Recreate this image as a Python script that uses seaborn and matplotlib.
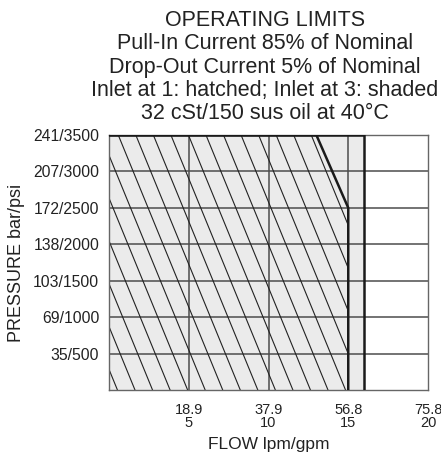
import matplotlib
matplotlib.use("Agg")
import matplotlib.pyplot as plt
from matplotlib.patches import Polygon
import seaborn as sns
import numpy as np
import pandas as pd

# axis ticks
flow_gpm = [5, 10, 15, 20]
flow_lpm = ["18.9", "37.9", "56.8", "75.8"]
pressure_psi = [500, 1000, 1500, 2000, 2500, 3000, 3500]
pressure_bar = [35, 69, 103, 138, 172, 207, 241]

# inlet at 1: hatched envelope (gpm / psi)
hatch_flow = [0, 0, 13, 15, 15]
hatch_psi = [0, 3500, 3500, 2500, 0]

# inlet at 3: shaded envelope
shade_flow = [0, 0, 16, 16]
shade_psi = [0, 3500, 3500, 0]

title_lines = [
    "OPERATING LIMITS",
    "Pull-In Current 85% of Nominal",
    "Drop-Out Current 5% of Nominal",
    "Inlet at 1: hatched; Inlet at 3: shaded",
    "32 cSt/150 sus oil at 40\u00b0C",
]

sns.set_style("white")
plt.rcParams["font.family"] = ["Liberation Sans", "DejaVu Sans"]

fig = plt.figure(figsize=(4.41, 4.55), dpi=100)
ax = fig.add_axes([109 / 441, 1 - 390 / 455, 319 / 441, 255 / 455])
ax.set_xlim(0, 20)
ax.set_ylim(0, 3500)

# shaded region
shade = Polygon(np.column_stack([shade_flow, shade_psi]), closed=True,
                facecolor="#ebebeb", edgecolor="none", zorder=0)
ax.add_patch(shade)

# grid
for x in flow_gpm[:-1]:
    ax.axvline(x, color="#4d4d4d", lw=1.1, zorder=1)
for y in pressure_psi[:-1]:
    ax.axhline(y, color="#4d4d4d", lw=1.1, zorder=1)

# hatch lines clipped to the hatched envelope
hatch_poly = Polygon(np.column_stack([hatch_flow, hatch_psi]), closed=True,
                     facecolor="none", edgecolor="none")
ax.add_patch(hatch_poly)
spacing, drift = 1.1, 6.55
for k in range(-8, 16):
    x_top = 0.58 + spacing * k
    ln, = ax.plot([x_top, x_top + drift], [3500, 0], color="#222222",
                  lw=0.8, zorder=2)
    ln.set_clip_path(hatch_poly)

# envelope borders
df_hatch = pd.DataFrame({"flow": hatch_flow[1:], "psi": hatch_psi[1:]})
sns.lineplot(data=df_hatch, x="flow", y="psi", sort=False, estimator=None,
             color="#1a1a1a", lw=1.8, ax=ax, zorder=3)
df_shade = pd.DataFrame({"flow": shade_flow[1:], "psi": shade_psi[1:]})
sns.lineplot(data=df_shade, x="flow", y="psi", sort=False, estimator=None,
             color="#1a1a1a", lw=1.8, ax=ax, zorder=3)

for s in ax.spines.values():
    s.set_color("#666666")
    s.set_linewidth(1.0)

ax.set_xticks(flow_gpm)
ax.set_xticklabels([f"{l}\n{g}" for l, g in zip(flow_lpm, flow_gpm)],
                   fontsize=10.5, linespacing=0.95)
ax.set_yticks(pressure_psi)
ax.set_yticklabels([f"{b}/{p}" for b, p in zip(pressure_bar, pressure_psi)],
                   fontsize=11.3)
ax.tick_params(length=0, colors="#222222")
ax.tick_params(axis="x", pad=9)
ax.tick_params(axis="y", pad=7)
ax.set_xlabel("FLOW lpm/gpm", fontsize=12.5, color="#222222", labelpad=5)
ax.set_ylabel("PRESSURE bar/psi", fontsize=13, color="#222222", labelpad=6)

for i, line in enumerate(title_lines):
    fig.text(265 / 441, 1 - (26 + 23.3 * i) / 455, line, ha="center",
             va="baseline", fontsize=15.5, color="#222222")

fig.savefig("out.png", dpi=100)
